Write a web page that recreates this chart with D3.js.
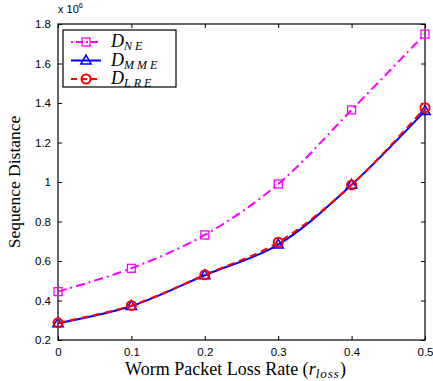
<!DOCTYPE html>
<html>
<head>
<meta charset="utf-8">
<script src="https://cdn.jsdelivr.net/npm/d3@7"></script>
<style>
body { margin: 0; background: #fff; }
svg text { font-family: "Liberation Sans", Arial, sans-serif; }
</style>
</head>
<body>
<div id="chart"></div>
<script>
// loss rates
var lossRates = [0, 0.1, 0.2, 0.3, 0.4, 0.5];
// sequence distance, x 10^6
var dNE  = [0.445, 0.563, 0.732, 0.99, 1.365, 1.749];
var dMME = [0.285, 0.372, 0.528, 0.683, 0.986, 1.36];
var dLRE = [0.287, 0.375, 0.530, 0.695, 0.985, 1.376];
var xTicks = [0, 0.1, 0.2, 0.3, 0.4, 0.5];
var yTicks = [0.2, 0.4, 0.6, 0.8, 1, 1.2, 1.4, 1.6, 1.8];

var margin = {top: 24, right: 8, bottom: 41, left: 58},
	width = 433 - margin.left - margin.right,
	height = 381 - margin.top - margin.bottom;

var svg = d3.select("#chart")
  .append("svg")
	.attr("width", 433)
	.attr("height", 381)
  .append("g")
	.attr("transform", "translate(" + margin.left + "," + margin.top + ")");

var x = d3.scaleLinear().domain([0, 0.5]).range([0, width]);
var y = d3.scaleLinear().domain([0.2, 1.8]).range([height, 0]);

// axes, ticks pointing inward on all sides
function styleAxis(g) {
	g.select(".domain").remove();
	g.selectAll("line").attr("stroke", "#000");
	g.selectAll("text").attr("fill", "#000").style("font-size", "11.5px");
}
svg.append("g")
	.attr("transform", "translate(0," + height + ")")
	.call(d3.axisBottom(x).tickValues(xTicks).tickSize(-4).tickPadding(8).tickFormat(d3.format("")))
	.call(styleAxis);
svg.append("g")
	.call(d3.axisTop(x).tickValues(xTicks).tickSize(-4).tickFormat(""))
	.call(styleAxis);
svg.append("g")
	.call(d3.axisLeft(y).tickValues(yTicks).tickSize(-4).tickPadding(7).tickFormat(d3.format("")))
	.call(styleAxis);
svg.append("g")
	.attr("transform", "translate(" + width + ",0)")
	.call(d3.axisRight(y).tickValues(yTicks).tickSize(-4).tickFormat(""))
	.call(styleAxis);

svg.append("rect")
	.attr("width", width).attr("height", height)
	.attr("fill", "none").attr("stroke", "#000").attr("stroke-width", 1.2);

// exponent
var ex = svg.append("text").attr("x", 0).attr("y", -11).style("font-size", "11px");
ex.append("tspan").text("x 10");
ex.append("tspan").attr("dy", -5).style("font-size", "7.5px").text("6");

var series = [
	{name: "NE", values: dNE, color: "#ff00ff", dash: "9,4,2,4", marker: "square"},
	{name: "MME", values: dMME, color: "#0000ff", dash: null, marker: "triangle"},
	{name: "LRE", values: dLRE, color: "#ff0000", dash: "7,5", marker: "circle"}
];

var line = d3.line()
	.x(function(d, i) { return x(lossRates[i]); })
	.y(function(d) { return y(d); })
	.curve(d3.curveCatmullRom.alpha(0.5));

function drawMarker(g, s, cx, cy) {
	if (s.marker == "square") {
		g.append("rect").attr("x", cx - 4).attr("y", cy - 4).attr("width", 8).attr("height", 8)
			.attr("fill", "none").attr("stroke", s.color).attr("stroke-width", 1.3);
	} else if (s.marker == "triangle") {
		g.append("path").attr("d", d3.symbol().type(d3.symbolTriangle).size(45)())
			.attr("transform", "translate(" + cx + "," + (cy + 0.5) + ")")
			.attr("fill", "none").attr("stroke", s.color).attr("stroke-width", 1.6);
	} else {
		g.append("circle").attr("cx", cx).attr("cy", cy).attr("r", 4.5)
			.attr("fill", "none").attr("stroke", s.color).attr("stroke-width", 2);
	}
}

series.forEach(function(s) {
	svg.append("path")
		.datum(s.values)
		.attr("d", line)
		.attr("fill", "none")
		.attr("stroke", s.color)
		.attr("stroke-width", 2)
		.attr("stroke-dasharray", s.dash);
	var g = svg.append("g");
	s.values.forEach(function(v, i) { drawMarker(g, s, x(lossRates[i]), y(v)); });
});

// legend
var lg = svg.append("g").attr("transform", "translate(5,6)");
lg.append("rect").attr("width", 113).attr("height", 57)
	.attr("fill", "#fff").attr("stroke", "#000").attr("stroke-width", 1.2);
series.forEach(function(s, i) {
	var ly = 12 + i * 18.5;
	lg.append("line").attr("x1", 8).attr("x2", 38).attr("y1", ly).attr("y2", ly)
		.attr("stroke", s.color).attr("stroke-width", 2)
		.attr("stroke-dasharray", s.dash ? (s.marker == "square" ? "2,3,7,3" : "6,4") : null);
	drawMarker(lg, s, 23, ly);
	var t = lg.append("text").attr("x", 48).attr("y", ly + 5)
		.style("font-family", "'Liberation Serif', serif").style("font-style", "italic").style("font-size", "18px");
	t.append("tspan").text("D");
	t.append("tspan").attr("dy", 3).style("font-size", "12px").attr("letter-spacing", "3px").text(s.name);
});

// axis titles
svg.append("text")
	.attr("transform", "translate(-38," + (height / 2) + ") rotate(-90)")
	.attr("text-anchor", "middle")
	.style("font-family", "'Liberation Serif', serif").style("font-size", "17.5px")
	.text("Sequence Distance");
var xt = svg.append("text")
	.attr("x", width / 2 - 6).attr("y", height + 35)
	.attr("text-anchor", "middle")
	.style("font-family", "'Liberation Serif', serif").style("font-size", "18px");
xt.append("tspan").text("Worm Packet Loss Rate (");
xt.append("tspan").style("font-style", "italic").text("r");
xt.append("tspan").attr("dy", 3).style("font-style", "italic").style("font-size", "13px").attr("letter-spacing", "1px").text("loss");
xt.append("tspan").attr("dy", -3).text(")");
</script>
</body>
</html>
